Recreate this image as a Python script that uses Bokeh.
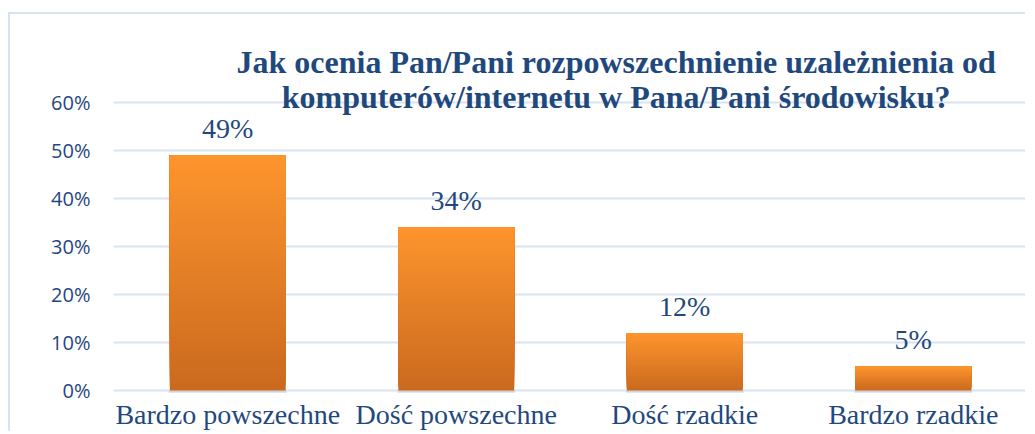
from bokeh.plotting import figure
from bokeh.models import FactorRange, FixedTicker, PrintfTickFormatter, LabelSet, Label, ColumnDataSource, Range1d
from bokeh.embed import file_html
from bokeh.resources import INLINE

categories = ["Bardzo powszechne", "Dość powszechne", "Dość rzadkie", "Bardzo rzadkie"]
values = [49, 34, 12, 5]
value_labels = ["49%", "34%", "12%", "5%"]
y_ticks = [0, 10, 20, 30, 40, 50, 60]
title_lines = ["Jak ocenia Pan/Pani rozpowszechnienie uzależnienia od",
               "komputerów/internetu w Pana/Pani środowisku?"]

DARK = "#1F497D"
GRID = "#D9E4F2"
TOP_RGB = (253, 148, 45)
BOT_RGB = (203, 106, 31)
N = 48

p = figure(width=1017, height=419, x_range=FactorRange(*categories),
           y_range=Range1d(-8.96, 78.33),
           output_backend="svg", toolbar_location=None,
           min_border_left=103, min_border_right=0, min_border_top=0, min_border_bottom=0)
p.styles = {"border-top": "2px solid #D6E3F2", "border-left": "2px solid #D6E3F2",
            "margin-top": "12px", "margin-left": "8px"}
p.outline_line_color = None
p.background_fill_color = "white"
p.border_fill_color = "white"

# soft shadow under each bar
p.vbar(x=categories, bottom=[-0.45] * len(values), top=[0] * len(values), width=0.515,
       fill_color="#9a9a9a", fill_alpha=0.35, line_color=None)

# gradient bars built from the values: overlapping slices, each running to the bar top
xs, bottoms, tops, colors = [], [], [], []
for c, v in zip(categories, values):
    for i in range(N):
        t = i / (N - 1)
        r = round(BOT_RGB[0] + (TOP_RGB[0] - BOT_RGB[0]) * t)
        g = round(BOT_RGB[1] + (TOP_RGB[1] - BOT_RGB[1]) * t)
        b = round(BOT_RGB[2] + (TOP_RGB[2] - BOT_RGB[2]) * t)
        xs.append(c)
        bottoms.append(v * i / N)
        tops.append(v)
        colors.append("#%02x%02x%02x" % (r, g, b))
src = ColumnDataSource(dict(x=xs, bottom=bottoms, top=tops, color=colors))
p.vbar(x="x", bottom="bottom", top="top", width=0.507, source=src,
       fill_color="color", line_color=None)

p.xaxis.visible = False
p.xgrid.visible = False
p.ygrid.grid_line_color = GRID
p.ygrid.grid_line_width = 2
p.yaxis.ticker = FixedTicker(ticks=y_ticks)
p.yaxis.formatter = PrintfTickFormatter(format="%d%%")
p.yaxis.axis_line_color = None
p.yaxis.major_tick_line_color = None
p.yaxis.minor_tick_line_color = None
p.yaxis.major_tick_out = 0
p.yaxis.major_tick_in = 0
p.yaxis.major_label_standoff = 23
p.yaxis.major_label_text_font = "Open Sans"
p.yaxis.major_label_text_font_size = "20px"
p.yaxis.major_label_text_color = DARK

lab_src = ColumnDataSource(dict(x=categories, y=values, t=value_labels, zero=[0] * len(values)))
p.add_layout(LabelSet(x="x", y="y", text="t", source=lab_src, y_offset=17,
                      text_align="center", text_baseline="alphabetic",
                      text_font="Liberation Serif", text_font_size="28px", text_color=DARK))
p.add_layout(LabelSet(x="x", y="zero", text="x", source=lab_src, y_offset=-34,
                      text_align="center", text_baseline="alphabetic",
                      text_font="Liberation Serif", text_font_size="28px", text_color=DARK))

for line, off in zip(title_lines, [40, 5]):
    p.add_layout(Label(x=2.2, y=60, y_offset=off, text=line, text_align="center",
                       text_baseline="alphabetic", text_font="Liberation Serif",
                       text_font_style="bold", text_font_size="32px", text_color=DARK))

open("out.html", "w").write(file_html(p, INLINE))
